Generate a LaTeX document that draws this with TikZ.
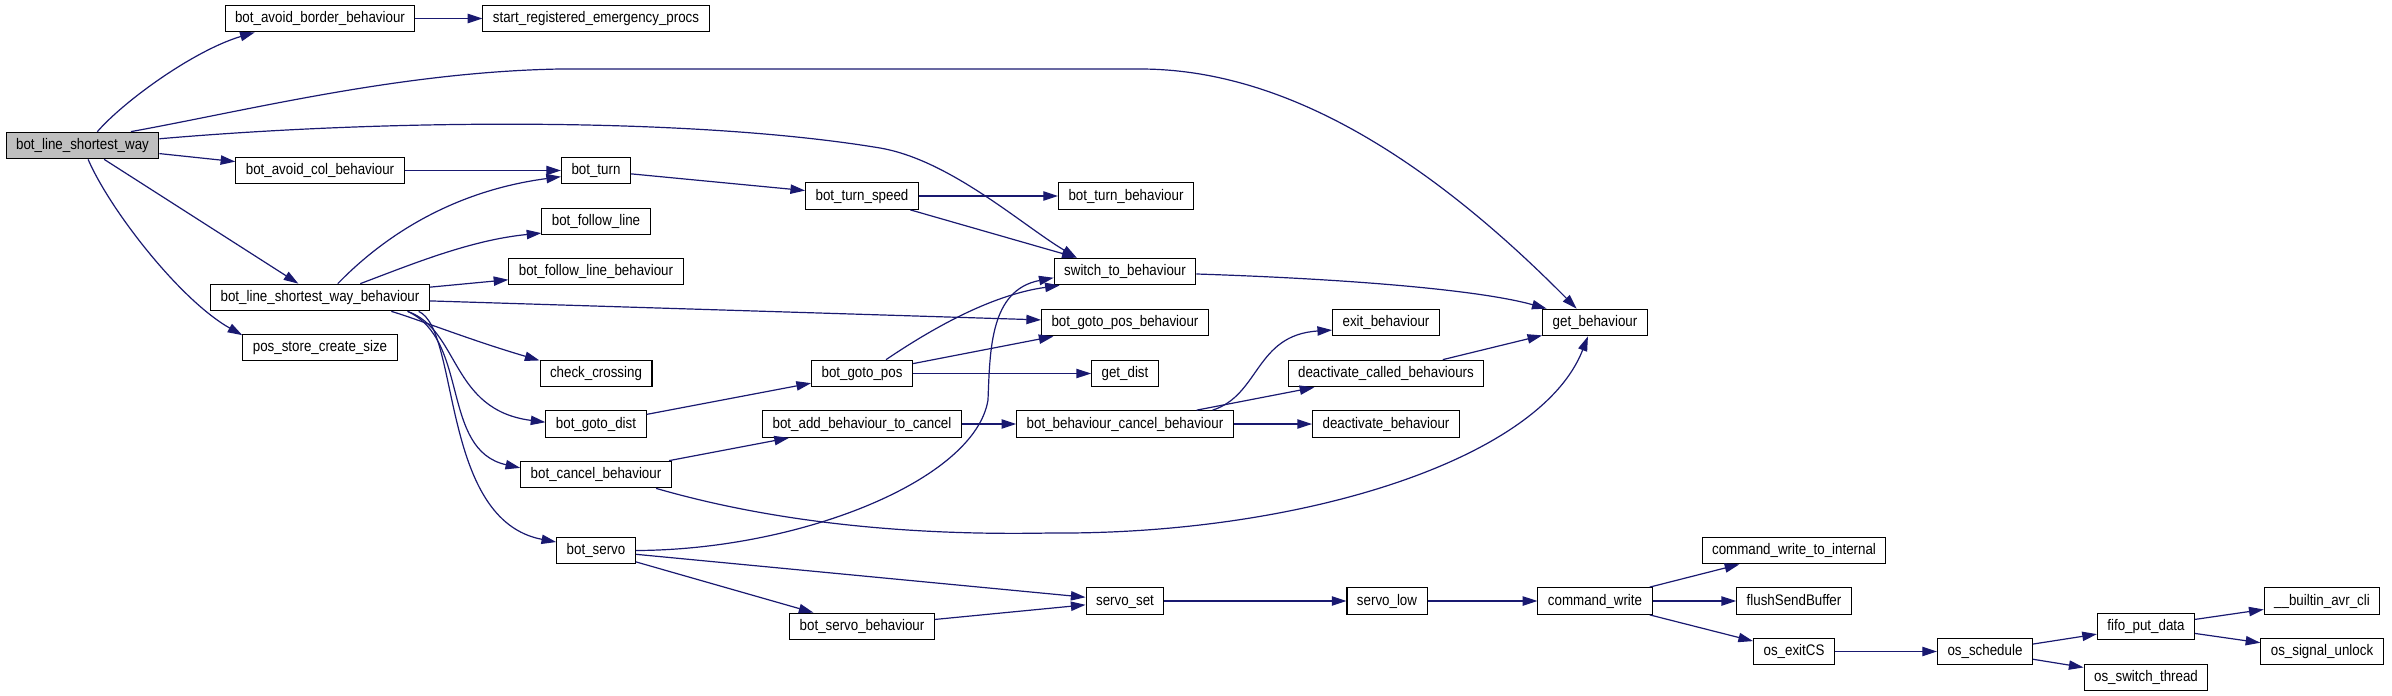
\documentclass[tikz,border=0pt]{standalone}
\usepackage{fontspec}
\setmainfont{Liberation Sans}[FakeStretch=0.87]
\usetikzlibrary{arrows.meta}
\definecolor{edgeblue}{HTML}{191970}
\definecolor{rootgray}{HTML}{BFBFBF}

\begin{document}
\begin{tikzpicture}[x=0.75pt, y=0.75pt,
    fn/.style={draw=black, line width=0.8pt, fill=white, minimum height=20pt,
      inner xsep=7.5pt, inner ysep=0pt, text height=8.3pt, text depth=1.8pt,
      font=\fontsize{11.5}{13}\selectfont},
    root/.style={fn, fill=rootgray},
    call/.style={draw=edgeblue, line width=0.9pt, -{Triangle[length=11pt, width=7pt]}}]
  \useasboundingbox (0,0) rectangle (2392,-696);
  % caller
  \node[root] (lineWay) at (82.5,-145.5) {bot\_line\_shortest\_way};
  % first level
  \node[fn] (avoidBorder) at (320,-18.5) {bot\_avoid\_border\_behaviour};
  \node[fn] (avoidCol) at (320,-170.5) {bot\_avoid\_col\_behaviour};
  \node[fn] (lineWayBeh) at (320,-297.5) {bot\_line\_shortest\_way\_behaviour};
  \node[fn] (posStore) at (320,-347.5) {pos\_store\_create\_size};
  % second level
  \node[fn] (emergency) at (596,-18.5) {start\_registered\_emergency\_procs};
  \node[fn] (turn) at (596,-170.5) {bot\_turn};
  \node[fn] (followLine) at (596,-221.5) {bot\_follow\_line};
  \node[fn] (followLineBeh) at (596,-271.5) {bot\_follow\_line\_behaviour};
  \node[fn] (checkCrossing) at (596,-373.5) {check\_crossing};
  \node[fn] (gotoDist) at (596,-424) {bot\_goto\_dist};
  \node[fn] (cancelBeh) at (596,-474.5) {bot\_cancel\_behaviour};
  \node[fn] (servo) at (596,-550.5) {bot\_servo};
  % third level
  \node[fn] (turnSpeed) at (862,-196) {bot\_turn\_speed};
  \node[fn] (gotoPos) at (862,-373.5) {bot\_goto\_pos};
  \node[fn] (addCancel) at (862,-424) {bot\_add\_behaviour\_to\_cancel};
  \node[fn] (servoBeh) at (862,-626.5) {bot\_servo\_behaviour};
  % fourth level
  \node[fn] (turnBeh) at (1126,-196) {bot\_turn\_behaviour};
  \node[fn] (switchTo) at (1125,-271.5) {switch\_to\_behaviour};
  \node[fn] (gotoPosBeh) at (1125,-322.5) {bot\_goto\_pos\_behaviour};
  \node[fn] (getDist) at (1125,-373.5) {get\_dist};
  \node[fn] (behCancel) at (1125,-424) {bot\_behaviour\_cancel\_behaviour};
  \node[fn] (servoSet) at (1125,-601) {servo\_set};
  % fifth level
  \node[fn] (exitBeh) at (1386,-322.5) {exit\_behaviour};
  \node[fn] (deactCalled) at (1386,-373.5) {deactivate\_called\_behaviours};
  \node[fn] (deactBeh) at (1386,-424) {deactivate\_behaviour};
  \node[fn] (servoLow) at (1387,-601) {servo\_low};
  % sixth level
  \node[fn] (getBeh) at (1595,-322.5) {get\_behaviour};
  \node[fn] (cmdWrite) at (1595,-601) {command\_write};
  % os side
  \node[fn] (cmdInternal) at (1794,-550.5) {command\_write\_to\_internal};
  \node[fn] (flush) at (1794,-601) {flushSendBuffer};
  \node[fn] (exitCS) at (1794,-651.5) {os\_exitCS};
  \node[fn] (schedule) at (1985,-651.5) {os\_schedule};
  \node[fn] (fifoPut) at (2146,-626.5) {fifo\_put\_data};
  \node[fn] (switchThread) at (2146,-677.5) {os\_switch\_thread};
  \node[fn] (avrCli) at (2322,-601) {\_\_builtin\_avr\_cli};
  \node[fn] (signalUnlock) at (2322,-651.5) {os\_signal\_unlock};

  % calls of the caller
  \draw[call] (lineWay.43) .. controls (125,-100) and (195,-50) .. (avoidBorder.192);
  \draw[call] (lineWay.16) .. controls (250,-110) and (400,-72) .. (560,-69) -- (1140,-69)
    .. controls (1260,-69) and (1400,-130) .. (getBeh.143);
  \draw[call] (lineWay.5) .. controls (400,-118) and (700,-118) .. (880,-148)
    .. controls (950,-160) and (1022,-225) .. (switchTo.164);
  \draw[call] (lineWay) -- (avoidCol);
  \draw[call] (lineWay) -- (lineWayBeh);
  \draw[call] (lineWay.292) .. controls (110,-210) and (180,-300) .. (posStore.171);
  \draw[call] (avoidBorder) -- (emergency);
  \draw[call] (avoidCol) -- (turn);
  % calls of the behaviour
  \draw[call] (lineWayBeh.38) .. controls (390,-230) and (460,-190) .. (turn.190);
  \draw[call] (lineWayBeh.19) .. controls (410,-265) and (470,-240) .. (followLine.192);
  \draw[call] (lineWayBeh) -- (followLineBeh);
  \draw[call] (lineWayBeh) -- (gotoPosBeh);
  \draw[call] (lineWayBeh.349) .. controls (420,-320) and (470,-340) .. (checkCrossing.167);
  \draw[call] (lineWayBeh.351) .. controls (460,-330) and (450,-410) .. (gotoDist.178);
  \draw[call] (lineWayBeh.351) .. controls (470,-340) and (440,-450) .. (cancelBeh.175);
  \draw[call] (lineWayBeh.352) .. controls (460,-330) and (440,-520) .. (servo.168);
  % turning
  \draw[call] (turn) -- (turnSpeed);
  \draw[call] (turnSpeed) -- (turnBeh);
  \draw[call] (turnSpeed) -- (switchTo);
  \draw[call] (switchTo.358) .. controls (1350,-279) and (1480,-290) .. (getBeh.164);
  % goto
  \draw[call] (gotoDist) -- (gotoPos);
  \draw[call] (gotoPos) -- (gotoPosBeh);
  \draw[call] (gotoPos) -- (getDist);
  \draw[call] (gotoPos.30) .. controls (930,-330) and (990,-295) .. (switchTo.192);
  % cancel
  \draw[call] (cancelBeh) -- (addCancel);
  \draw[call] (cancelBeh.347) .. controls (800,-530) and (950,-535) .. (1050,-533)
    .. controls (1300,-535) and (1540,-460) .. (getBeh.243);
  \draw[call] (addCancel) -- (behCancel);
  \draw[call] (behCancel.9) .. controls (1260,-395) and (1255,-335) .. (exitBeh.188);
  \draw[call] (behCancel) -- (deactCalled);
  \draw[call] (behCancel) -- (deactBeh);
  \draw[call] (deactCalled) -- (getBeh);
  % servo
  \draw[call] (servo.east) .. controls (800,-550) and (975,-480) .. (988,-400)
    .. controls (990,-350) and (990,-290) .. (switchTo.185);
  \draw[call] (servo) -- (servoSet);
  \draw[call] (servo) -- (servoBeh);
  \draw[call] (servoBeh) -- (servoSet);
  \draw[call] (servoSet) -- (servoLow);
  \draw[call] (servoLow) -- (cmdWrite);
  % command and os
  \draw[call] (cmdWrite) -- (cmdInternal);
  \draw[call] (cmdWrite) -- (flush);
  \draw[call] (cmdWrite) -- (exitCS);
  \draw[call] (exitCS) -- (schedule);
  \draw[call] (schedule) -- (fifoPut);
  \draw[call] (schedule) -- (switchThread);
  \draw[call] (fifoPut) -- (avrCli);
  \draw[call] (fifoPut) -- (signalUnlock);
\end{tikzpicture}
\end{document}
